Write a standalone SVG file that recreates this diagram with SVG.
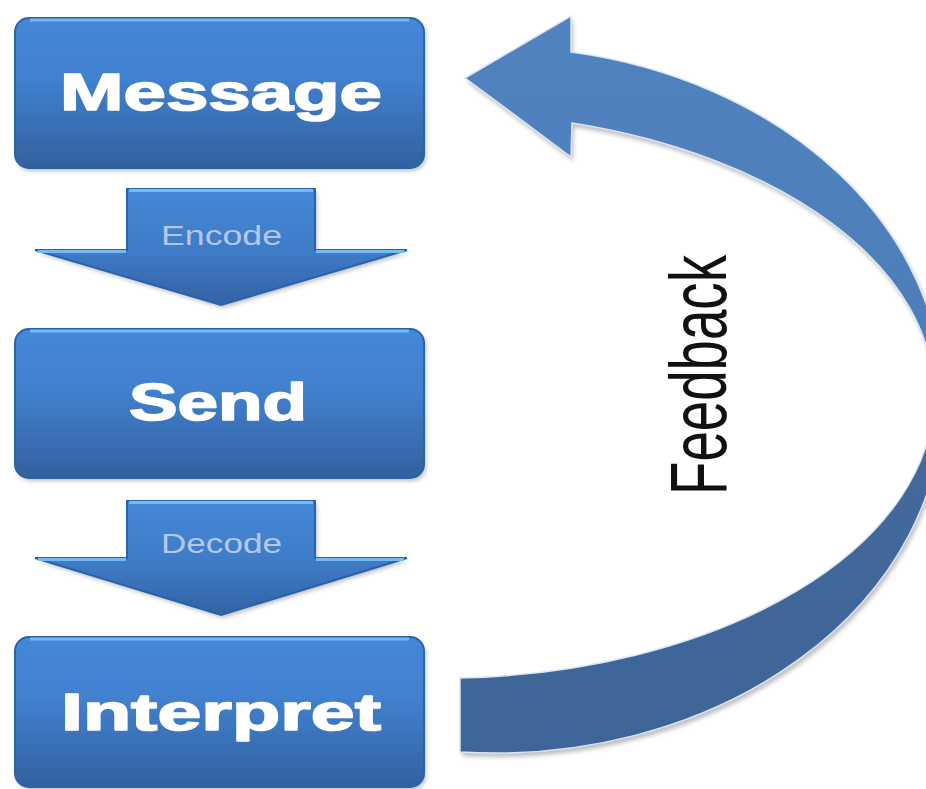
<svg xmlns="http://www.w3.org/2000/svg" width="926" height="789" viewBox="0 0 926 789">
<defs>
  <linearGradient id="boxG" x1="0" y1="0" x2="0" y2="1">
    <stop offset="0" stop-color="#4588d8"/>
    <stop offset="0.4" stop-color="#4181cf"/>
    <stop offset="0.85" stop-color="#3669ab"/>
    <stop offset="1" stop-color="#31609f"/>
  </linearGradient>
  <linearGradient id="arrG" x1="0" y1="0" x2="0" y2="1">
    <stop offset="0" stop-color="#4588d8"/>
    <stop offset="0.55" stop-color="#3e7bc6"/>
    <stop offset="1" stop-color="#3262a3"/>
  </linearGradient>
  <linearGradient id="fbG" gradientUnits="userSpaceOnUse" x1="0" y1="15" x2="0" y2="755">
    <stop offset="0" stop-color="#5082bf"/>
    <stop offset="0.45" stop-color="#4d7eba"/>
    <stop offset="0.58" stop-color="#43699d"/>
    <stop offset="1" stop-color="#3e6597"/>
  </linearGradient>
  <filter id="sh" x="-10%" y="-10%" width="130%" height="130%">
    <feGaussianBlur stdDeviation="2"/>
  </filter>
</defs>
<style>
  .shadow { fill:#8a8a8a; opacity:0.55; filter:url(#sh); }
  .box { fill:url(#boxG); stroke:#2a63aa; stroke-width:2; }
  .hl { stroke:#72bbf6; stroke-width:3; fill:none; }
  .lbl { font-family:"Liberation Sans", Arial, sans-serif; font-weight:bold; font-size:52px; fill:#ffffff; stroke:#ffffff; stroke-width:1.6; stroke-linejoin:round; }
  .darrow { fill:url(#arrG); stroke:#2563ae; stroke-width:2; stroke-linejoin:miter; }
  .alb { font-family:"Liberation Sans", Arial, sans-serif; font-size:28px; fill:#b5c7e6; }
  .fb { fill:url(#fbG); stroke:#dbe6f4; stroke-width:1.5; }
  .fbtext { font-family:"Liberation Sans", Arial, sans-serif; font-size:80px; fill:#111111; }
</style>
<rect width="926" height="789" fill="#ffffff"/>

<g id="connectors">
  <g id="encode">
    <polygon class="shadow" points="129,192 317,192 317,253 409,253 223,308 37,253 129,253"/>
    <polygon class="darrow" points="127,189 315,189 315,250 407,250 221,305 35,250 127,250"/>
    <line class="hl" x1="129" y1="190.5" x2="313" y2="190.5"/>
    <line class="hl" x1="38" y1="251.5" x2="126" y2="251.5"/>
    <line class="hl" x1="316" y1="251.5" x2="404" y2="251.5"/>
    <text class="alb" x="221.5" y="245" text-anchor="middle" textLength="121" lengthAdjust="spacingAndGlyphs">Encode</text>
  </g>
  <g id="decode">
    <polygon class="shadow" points="129,504 317,504 317,561 409,561 223,618 37,561 129,561"/>
    <polygon class="darrow" points="127,501 315,501 315,558 407,558 221,615 35,558 127,558"/>
    <line class="hl" x1="129" y1="502.5" x2="313" y2="502.5"/>
    <line class="hl" x1="38" y1="559.5" x2="126" y2="559.5"/>
    <line class="hl" x1="316" y1="559.5" x2="404" y2="559.5"/>
    <text class="alb" x="221.5" y="553" text-anchor="middle" textLength="121" lengthAdjust="spacingAndGlyphs">Decode</text>
  </g>
  <g id="feedback">
    <path class="shadow" transform="translate(2,4)" d="M 465 78 L 571 16 L 571 52 A 448 353 0 0 1 943 400 A 448 353 0 0 1 460 752 L 460 678 A 494 283 0 0 0 934 395 A 494 283 0 0 0 572 123 L 571 157 Z"/>
    <path class="fb" d="M 465 78 L 571 16 L 571 52 A 448 353 0 0 1 943 400 A 448 353 0 0 1 460 752 L 460 678 A 494 283 0 0 0 934 395 A 494 283 0 0 0 572 123 L 571 157 Z"/>
    <text class="fbtext" transform="translate(726,375) rotate(-90)" text-anchor="middle" textLength="240" lengthAdjust="spacingAndGlyphs">Feedback</text>
  </g>
</g>

<g id="message">
  <rect class="shadow" x="17" y="21" width="409" height="150" rx="14"/>
  <rect class="box" x="15" y="18" width="409" height="150" rx="14"/>
  <line class="hl" x1="30" y1="20" x2="409" y2="20"/>
  <text class="lbl" x="221" y="110" text-anchor="middle" textLength="322" lengthAdjust="spacingAndGlyphs">Message</text>
</g>

<g id="send">
  <rect class="shadow" x="17" y="332" width="409" height="149" rx="14"/>
  <rect class="box" x="15" y="329" width="409" height="149" rx="14"/>
  <line class="hl" x1="30" y1="331" x2="409" y2="331"/>
  <text class="lbl" x="218" y="420" text-anchor="middle" textLength="178" lengthAdjust="spacingAndGlyphs">Send</text>
</g>

<g id="interpret">
  <rect class="shadow" x="17" y="640" width="409" height="150" rx="14"/>
  <rect class="box" x="15" y="637" width="409" height="150" rx="14"/>
  <line class="hl" x1="30" y1="639" x2="409" y2="639"/>
  <text class="lbl" x="221" y="730" text-anchor="middle" textLength="320" lengthAdjust="spacingAndGlyphs">Interpret</text>
</g>
</svg>
